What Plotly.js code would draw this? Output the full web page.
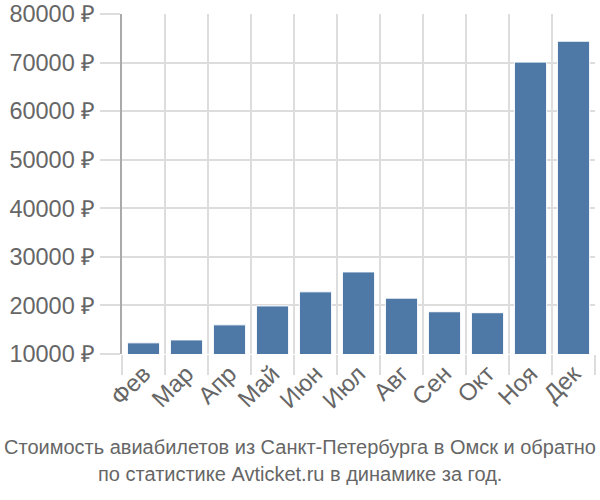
<!DOCTYPE html>
<html><head><meta charset="utf-8">
<script src="https://cdn.plot.ly/plotly-3.0.1.min.js"></script>
<style>html,body{margin:0;padding:0;background:#fff}#c{width:600px;height:500px}</style>
</head><body><div id="c"></div>
<script>
const months = ["Фев","Мар","Апр","Май","Июн","Июл","Авг","Сен","Окт","Ноя","Дек"];
const prices = [12300, 12900, 16000, 19900, 22800, 26900, 21500, 18700, 18500, 70100, 74400];
const yTicks = [10000,20000,30000,40000,50000,60000,70000,80000];
const titleLines = ["Стоимость авиабилетов из Санкт-Петербурга в Омск и обратно","по статистике Avticket.ru в динамике за год."];

const font = "Liberation Sans, Arial, sans-serif";
const cx = (300-122)/473;
Plotly.newPlot('c', [{
  type:'bar', x: months, y: prices,
  marker:{color:'#4e78a6', line:{color:'#ffffff', width:1}},
  hoverinfo:'skip'
}], {
  width:600, height:500,
  margin:{l:122, r:5, t:14, b:146},
  bargap:0.25,
  paper_bgcolor:'#fff', plot_bgcolor:'#fff',
  showlegend:false,
  xaxis:{type:'category', tickson:'boundaries', ticks:'outside', ticklen:20, tickcolor:'#dddddd', tickwidth:2,
    showgrid:true, gridcolor:'#dddddd', gridwidth:2, tickangle:-45,
    tickfont:{family:font, size:24, color:'#666'}, showline:false, zeroline:false},
  yaxis:{range:[10000,80000], tickvals:yTicks, ticktext:yTicks.map(v=>v+' ₽'), ticks:'outside', ticklen:20, tickcolor:'#dddddd', tickwidth:2,
    showgrid:true, gridcolor:'#dddddd', gridwidth:2, showline:true, linecolor:'#aaaaaa', linewidth:2,
    tickfont:{family:font, size:23.5, color:'#666'}, zeroline:false},
  annotations: titleLines.map((t,i)=>({xref:'paper', yref:'paper', x:cx, y:0, yshift:-(93+27*i), xanchor:'center', yanchor:'middle',
    showarrow:false, text:t, font:{family:font, size:20, color:'#666'}}))
}, {staticPlot:true});
</script></body></html>
